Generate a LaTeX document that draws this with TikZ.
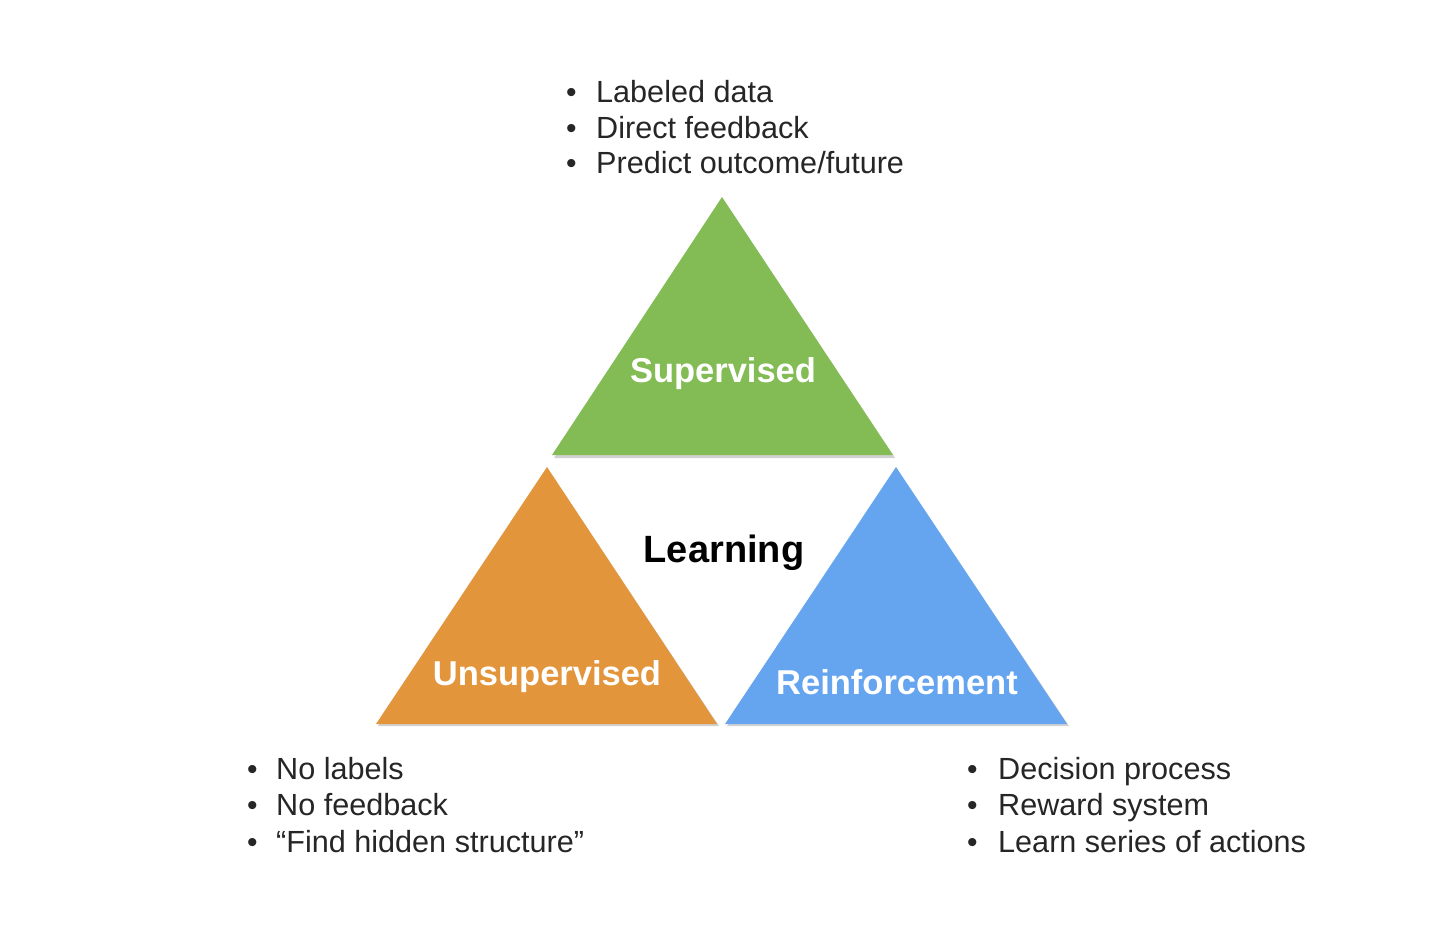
\documentclass[tikz,border=0pt]{standalone}
\usepackage{fontspec}
\setmainfont{Liberation Sans}
\definecolor{supgreen}{HTML}{83BC55}
\definecolor{unsorange}{HTML}{E3953B}
\definecolor{reiblue}{HTML}{65A4EF}
\definecolor{txtgray}{HTML}{262626}
\tikzset{
  triShadow/.style={fill=black, opacity=0.18, draw=none},
  item/.style={inner sep=0pt, anchor=base west, font=\fontsize{30.6}{36}\selectfont, text=txtgray},
  bul/.style={inner sep=0pt, anchor=base west, font=\fontsize{30}{36}\selectfont, text=txtgray},
  tlabel/.style={inner sep=0pt, anchor=base, font=\bfseries\fontsize{34.5}{40}\selectfont, text=white},
  clabel/.style={inner sep=0pt, anchor=base, font=\bfseries\fontsize{38}{44}\selectfont, text=black}
}
\begin{document}
\begin{tikzpicture}[x=1pt,y=-1pt]
\useasboundingbox (0,0) rectangle (1438,930);
\fill[white] (0,0) rectangle (1438,930);
% shadows
\fill[triShadow] (723,199) -- (554,458) -- (895,458) -- cycle;
\fill[triShadow] (548,469) -- (378,726) -- (719,726) -- cycle;
\fill[triShadow] (897,469) -- (727,726) -- (1069,726) -- cycle;
% triangles
\coordinate (gA) at (722,197);
\coordinate (gL) at (552,455);
\coordinate (gR) at (893,455);
\coordinate (oA) at (547,467);
\coordinate (oL) at (376,724);
\coordinate (oR) at (717,724);
\coordinate (bA) at (896,467);
\coordinate (bL) at (725,724);
\coordinate (bR) at (1067,724);
\fill[supgreen] (gA) -- (gL) -- (gR) -- cycle;
\fill[unsorange] (oA) -- (oL) -- (oR) -- cycle;
\fill[reiblue] (bA) -- (bL) -- (bR) -- cycle;
% labels
\node[tlabel] (sup) at (723,382) {Supervised};
\node[tlabel] (uns) at (547,685) {Unsupervised};
\node[tlabel] (rei) at (897,694) {Reinforcement};
\node[clabel] (lrn) at (724,562) {Learning};
% top list
\node[bul] (sb1) at (566,102) {•};
\node[bul] (sb2) at (566,138) {•};
\node[bul] (sb3) at (566,173) {•};
\node[item] (s1) at (596,102) {Labeled data};
\node[item] (s2) at (596,138) {Direct feedback};
\node[item] (s3) at (596,173) {Predict outcome/future};
% left list
\node[bul] (ub1) at (247,779) {•};
\node[bul] (ub2) at (247,815.5) {•};
\node[bul] (ub3) at (247,852) {•};
\node[item] (u1) at (276,779) {No labels};
\node[item] (u2) at (276,815.5) {No feedback};
\node[item] (u3) at (276,852) {“Find hidden structure”};
% right list
\node[bul] (rb1) at (967,779) {•};
\node[bul] (rb2) at (967,815.5) {•};
\node[bul] (rb3) at (967,852) {•};
\node[item] (r1) at (998,779) {Decision process};
\node[item] (r2) at (998,815.5) {Reward system};
\node[item] (r3) at (998,852) {Learn series of actions};
\end{tikzpicture}
\end{document}
